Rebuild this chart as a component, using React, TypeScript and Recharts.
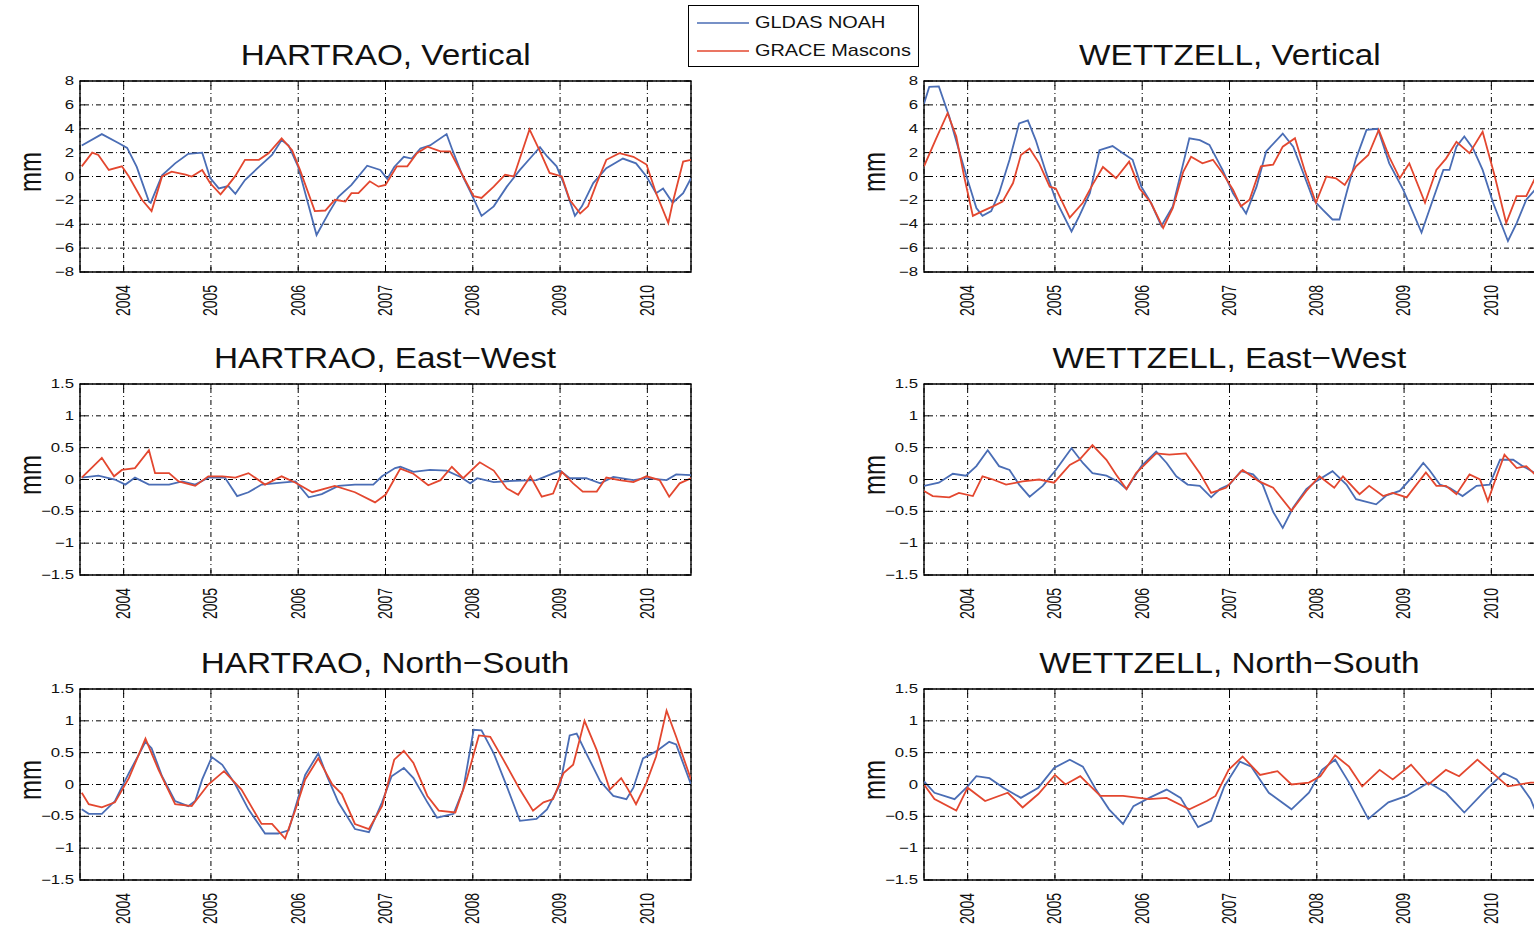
import React from "react";
import { LineChart, Line, XAxis, YAxis, CartesianGrid, ReferenceArea } from "recharts";

type Pt = [number, number];

const years = [2004, 2005, 2006, 2007, 2008, 2009, 2010];
const vertTicks = [-8, -6, -4, -2, 0, 2, 4, 6, 8];
const horizTicks = [-1.5, -1, -0.5, 0, 0.5, 1, 1.5];
const seriesNames = ["GLDAS NOAH", "GRACE Mascons"];

// HARTRAO
const hartraoVertGldas: Pt[] = [[2003.52,2.6],[2003.75,3.55],[2003.94,2.8],[2004.04,2.4],[2004.15,0.8],[2004.29,-2.1],[2004.31,-2.2],[2004.44,0.1],[2004.59,1.1],[2004.74,1.9],[2004.9,2.0],[2004.99,-0.1],[2005.09,-1.0],[2005.2,-0.8],[2005.28,-1.45],[2005.39,-0.3],[2005.55,0.8],[2005.7,1.8],[2005.81,3.05],[2005.89,2.6],[2006.0,0.8],[2006.21,-4.9],[2006.35,-3.05],[2006.46,-1.7],[2006.61,-0.7],[2006.79,0.9],[2006.94,0.55],[2007.02,-0.2],[2007.1,0.8],[2007.21,1.65],[2007.3,1.5],[2007.4,2.35],[2007.51,2.6],[2007.7,3.55],[2007.76,2.35],[2007.88,0.1],[2007.97,-1.25],[2008.1,-3.3],[2008.24,-2.5],[2008.39,-0.85],[2008.54,0.55],[2008.69,1.8],[2008.77,2.45],[2008.85,1.7],[2008.96,0.85],[2009.04,-0.55],[2009.17,-3.3],[2009.25,-2.5],[2009.38,-0.55],[2009.53,0.7],[2009.72,1.5],[2009.87,1.1],[2009.99,0],[2010.1,-1.4],[2010.18,-1.0],[2010.29,-2.2],[2010.41,-1.4],[2010.5,-0.15]];
const hartraoVertGrace: Pt[] = [[2003.52,0.85],[2003.64,2.0],[2003.71,1.8],[2003.83,0.55],[2003.98,0.85],[2004.06,0],[2004.21,-1.95],[2004.32,-2.9],[2004.44,0],[2004.55,0.4],[2004.71,0.15],[2004.78,0],[2004.9,0.55],[2004.99,-0.55],[2005.11,-1.5],[2005.2,-0.7],[2005.28,0.05],[2005.39,1.4],[2005.55,1.4],[2005.66,1.95],[2005.81,3.2],[2005.93,2.2],[2006.02,0.55],[2006.19,-2.9],[2006.31,-2.85],[2006.42,-1.95],[2006.54,-2.1],[2006.61,-1.4],[2006.69,-1.4],[2006.82,-0.4],[2006.92,-0.85],[2007.0,-0.7],[2007.13,0.85],[2007.25,0.85],[2007.36,1.95],[2007.48,2.5],[2007.63,2.1],[2007.74,2.1],[2007.88,0.15],[2008.01,-1.65],[2008.1,-1.8],[2008.24,-0.85],[2008.37,0.15],[2008.47,0],[2008.65,3.95],[2008.77,2.1],[2008.88,0.3],[2009.02,0],[2009.11,-1.95],[2009.23,-3.1],[2009.32,-2.5],[2009.42,-0.55],[2009.53,1.4],[2009.68,1.95],[2009.84,1.65],[2009.99,1.0],[2010.1,-1.4],[2010.24,-3.9],[2010.29,-2.2],[2010.41,1.25],[2010.5,1.4]];
const hartraoEwGldas: Pt[] = [[2003.52,0.03],[2003.71,0.06],[2003.9,0],[2004.02,-0.08],[2004.13,0.03],[2004.29,-0.08],[2004.52,-0.08],[2004.67,-0.03],[2004.82,-0.08],[2004.97,0.03],[2005.16,0.03],[2005.3,-0.26],[2005.43,-0.2],[2005.58,-0.08],[2005.81,-0.05],[2005.97,-0.03],[2006.12,-0.28],[2006.27,-0.23],[2006.46,-0.1],[2006.65,-0.08],[2006.86,-0.08],[2006.96,0.05],[2007.11,0.18],[2007.17,0.2],[2007.32,0.12],[2007.51,0.15],[2007.7,0.14],[2007.86,0.04],[2007.97,-0.06],[2008.05,0.02],[2008.24,-0.04],[2008.47,-0.02],[2008.73,-0.01],[2009.0,0.14],[2009.11,0.02],[2009.3,0.02],[2009.46,-0.06],[2009.61,0.04],[2009.84,-0.01],[2009.99,0.02],[2010.22,-0.01],[2010.33,0.08],[2010.5,0.07]];
const hartraoEwGrace: Pt[] = [[2003.52,0.03],[2003.75,0.34],[2003.89,0.05],[2003.98,0.15],[2004.13,0.18],[2004.29,0.46],[2004.36,0.1],[2004.52,0.1],[2004.63,-0.03],[2004.82,-0.1],[2004.97,0.05],[2005.13,0.05],[2005.28,0.03],[2005.43,0.1],[2005.62,-0.08],[2005.81,0.05],[2005.97,-0.05],[2006.16,-0.2],[2006.42,-0.1],[2006.65,-0.2],[2006.88,-0.36],[2007.0,-0.24],[2007.17,0.17],[2007.32,0.09],[2007.49,-0.09],[2007.63,-0.01],[2007.76,0.2],[2007.89,0.02],[2008.08,0.27],[2008.24,0.14],[2008.39,-0.14],[2008.52,-0.24],[2008.66,0.05],[2008.79,-0.27],[2008.92,-0.22],[2009.02,0.12],[2009.15,-0.06],[2009.26,-0.19],[2009.42,-0.19],[2009.53,0.03],[2009.68,-0.01],[2009.84,-0.04],[2009.99,0.05],[2010.14,-0.01],[2010.25,-0.27],[2010.37,-0.06],[2010.5,0.02]];
const hartraoNsGldas: Pt[] = [[2003.52,-0.39],[2003.6,-0.46],[2003.75,-0.46],[2003.9,-0.26],[2004.06,0.18],[2004.17,0.46],[2004.25,0.67],[2004.32,0.57],[2004.44,0.13],[2004.59,-0.26],[2004.74,-0.34],[2004.82,-0.26],[2004.9,0.08],[2005.01,0.43],[2005.13,0.31],[2005.28,0],[2005.43,-0.39],[2005.62,-0.77],[2005.77,-0.77],[2005.89,-0.72],[2006.0,-0.21],[2006.08,0.15],[2006.23,0.49],[2006.33,0.13],[2006.46,-0.28],[2006.65,-0.7],[2006.81,-0.75],[2006.96,-0.28],[2007.07,0.13],[2007.21,0.26],[2007.32,0.1],[2007.48,-0.28],[2007.59,-0.52],[2007.78,-0.46],[2007.89,-0.08],[2008.01,0.86],[2008.1,0.85],[2008.24,0.49],[2008.39,-0.03],[2008.54,-0.57],[2008.73,-0.54],[2008.85,-0.39],[2009.0,0],[2009.11,0.77],[2009.19,0.8],[2009.3,0.49],[2009.46,0.05],[2009.61,-0.18],[2009.76,-0.23],[2009.84,-0.05],[2009.95,0.41],[2010.1,0.52],[2010.25,0.67],[2010.33,0.63],[2010.5,0]];
const hartraoNsGrace: Pt[] = [[2003.52,-0.13],[2003.6,-0.31],[2003.75,-0.36],[2003.9,-0.28],[2004.06,0.1],[2004.25,0.72],[2004.4,0.23],[2004.59,-0.31],[2004.78,-0.34],[2004.97,0],[2005.15,0.21],[2005.35,-0.08],[2005.58,-0.62],[2005.7,-0.62],[2005.85,-0.85],[2005.97,-0.39],[2006.08,0.08],[2006.23,0.41],[2006.39,0],[2006.5,-0.15],[2006.65,-0.62],[2006.81,-0.7],[2006.96,-0.34],[2007.1,0.39],[2007.21,0.53],[2007.32,0.34],[2007.48,-0.18],[2007.61,-0.41],[2007.8,-0.44],[2007.93,0.08],[2008.07,0.77],[2008.2,0.75],[2008.35,0.39],[2008.54,-0.08],[2008.69,-0.41],[2008.81,-0.28],[2008.92,-0.23],[2009.04,0.18],[2009.15,0.31],[2009.28,1.0],[2009.42,0.54],[2009.57,-0.08],[2009.7,0.1],[2009.78,-0.08],[2009.87,-0.31],[2009.99,0.03],[2010.1,0.44],[2010.22,1.16],[2010.33,0.75],[2010.5,0.08]];

// WETTZELL
const wettzellVertGldas: Pt[] = [[2003.5,6.1],[2003.56,7.5],[2003.67,7.55],[2003.79,5.0],[2003.9,2.2],[2004.0,-0.3],[2004.1,-2.65],[2004.17,-3.3],[2004.27,-2.9],[2004.36,-1.4],[2004.48,1.4],[2004.59,4.45],[2004.69,4.7],[2004.78,3.05],[2004.9,0.3],[2005.01,-1.95],[2005.19,-4.6],[2005.28,-3.3],[2005.4,-1.4],[2005.51,2.2],[2005.66,2.55],[2005.78,1.95],[2005.89,1.4],[2005.99,-0.85],[2006.1,-2.2],[2006.22,-4.15],[2006.35,-2.5],[2006.47,1.1],[2006.54,3.2],[2006.66,3.05],[2006.77,2.65],[2006.92,0.55],[2007.04,-1.4],[2007.19,-3.1],[2007.31,-0.85],[2007.42,2.1],[2007.61,3.6],[2007.73,2.5],[2007.86,0],[2007.96,-1.95],[2008.07,-2.8],[2008.18,-3.6],[2008.26,-3.6],[2008.34,-1.4],[2008.45,1.5],[2008.57,3.9],[2008.7,4.0],[2008.83,1.1],[2008.99,-1.1],[2009.2,-4.7],[2009.33,-1.95],[2009.45,0.55],[2009.52,0.55],[2009.6,2.5],[2009.69,3.35],[2009.79,2.35],[2009.9,0.55],[2010.02,-2.2],[2010.19,-5.4],[2010.29,-3.9],[2010.4,-1.95],[2010.5,-1.1]];
const wettzellVertGrace: Pt[] = [[2003.5,0.85],[2003.64,3.2],[2003.77,5.3],[2003.87,3.35],[2003.96,0],[2004.06,-3.3],[2004.17,-2.9],[2004.29,-2.5],[2004.4,-2.1],[2004.52,-0.55],[2004.61,1.8],[2004.71,2.35],[2004.82,1.1],[2004.94,-0.85],[2005.01,-1.0],[2005.17,-3.45],[2005.32,-2.2],[2005.43,-0.7],[2005.55,0.8],[2005.7,-0.15],[2005.85,1.25],[2005.97,-1.0],[2006.1,-2.2],[2006.24,-4.3],[2006.35,-2.65],[2006.47,0.4],[2006.56,1.65],[2006.69,1.1],[2006.81,1.4],[2006.92,0.3],[2007.04,-1.1],[2007.13,-2.5],[2007.23,-1.95],[2007.36,0.85],[2007.5,1.0],[2007.61,2.5],[2007.75,3.2],[2007.86,0.55],[2007.99,-2.2],[2008.11,0],[2008.22,-0.15],[2008.32,-0.7],[2008.45,0.85],[2008.59,1.8],[2008.71,3.9],[2008.83,1.65],[2008.95,-0.15],[2009.06,1.1],[2009.24,-2.2],[2009.37,0.55],[2009.48,1.5],[2009.6,2.9],[2009.75,1.95],[2009.9,3.75],[2010.04,0],[2010.17,-3.9],[2010.29,-1.65],[2010.4,-1.65],[2010.5,-0.15]];
const wettzellEwGldas: Pt[] = [[2003.5,-0.1],[2003.67,-0.05],[2003.83,0.09],[2003.98,0.06],[2004.1,0.21],[2004.23,0.46],[2004.36,0.21],[2004.48,0.15],[2004.59,-0.08],[2004.71,-0.27],[2004.86,-0.1],[2005.01,0.15],[2005.19,0.49],[2005.32,0.26],[2005.43,0.1],[2005.59,0.06],[2005.72,-0.03],[2005.82,-0.15],[2005.99,0.21],[2006.16,0.44],[2006.28,0.26],[2006.39,0.05],[2006.52,-0.08],[2006.66,-0.1],[2006.79,-0.28],[2006.89,-0.15],[2007.0,-0.08],[2007.13,0.13],[2007.27,0.08],[2007.38,-0.08],[2007.5,-0.51],[2007.61,-0.76],[2007.73,-0.44],[2007.88,-0.15],[2007.99,-0.03],[2008.18,0.13],[2008.34,-0.08],[2008.45,-0.31],[2008.68,-0.39],[2008.8,-0.25],[2008.95,-0.18],[2009.1,0.05],[2009.22,0.26],[2009.29,0.15],[2009.41,-0.08],[2009.52,-0.13],[2009.67,-0.26],[2009.83,-0.1],[2009.98,-0.08],[2010.1,0.31],[2010.25,0.31],[2010.36,0.21],[2010.5,0.1]];
const wettzellEwGrace: Pt[] = [[2003.5,-0.18],[2003.6,-0.26],[2003.79,-0.28],[2003.9,-0.21],[2004.06,-0.26],[2004.17,0.05],[2004.29,0],[2004.44,-0.08],[2004.63,-0.03],[2004.82,0],[2004.99,-0.05],[2005.17,0.23],[2005.28,0.31],[2005.43,0.54],[2005.59,0.31],[2005.7,0.08],[2005.82,-0.15],[2005.93,0.1],[2006.16,0.41],[2006.31,0.39],[2006.5,0.41],[2006.66,0.1],[2006.79,-0.21],[2006.96,-0.13],[2007.15,0.15],[2007.34,-0.03],[2007.5,-0.13],[2007.71,-0.49],[2007.88,-0.18],[2008.03,0.05],[2008.2,-0.13],[2008.3,0.05],[2008.49,-0.23],[2008.6,-0.1],[2008.76,-0.26],[2008.87,-0.21],[2009.03,-0.28],[2009.25,0.11],[2009.37,-0.1],[2009.48,-0.1],[2009.6,-0.23],[2009.75,0.08],[2009.87,0],[2009.96,-0.34],[2010.06,0.05],[2010.15,0.39],[2010.29,0.18],[2010.4,0.21],[2010.5,0.08]];
const wettzellNsGldas: Pt[] = [[2003.5,0.05],[2003.62,-0.13],[2003.85,-0.23],[2004.0,-0.03],[2004.1,0.13],[2004.25,0.1],[2004.41,-0.05],[2004.61,-0.21],[2004.81,-0.05],[2004.99,0.26],[2005.17,0.39],[2005.32,0.28],[2005.47,-0.08],[2005.62,-0.39],[2005.78,-0.62],[2005.9,-0.34],[2006.08,-0.21],[2006.28,-0.08],[2006.44,-0.21],[2006.64,-0.67],[2006.79,-0.57],[2006.94,-0.03],[2007.12,0.36],[2007.25,0.28],[2007.45,-0.13],[2007.71,-0.39],[2007.91,-0.13],[2008.06,0.23],[2008.21,0.39],[2008.37,0.03],[2008.59,-0.54],[2008.82,-0.28],[2009.03,-0.18],[2009.28,0.03],[2009.48,-0.13],[2009.69,-0.44],[2009.94,-0.08],[2010.14,0.18],[2010.29,0.08],[2010.45,-0.23],[2010.5,-0.4]];
const wettzellNsGrace: Pt[] = [[2003.5,0],[2003.62,-0.23],[2003.87,-0.41],[2004.0,-0.05],[2004.2,-0.26],[2004.46,-0.13],[2004.63,-0.36],[2004.81,-0.15],[2005.0,0.15],[2005.12,0],[2005.29,0.13],[2005.52,-0.18],[2005.78,-0.18],[2006.08,-0.23],[2006.28,-0.21],[2006.54,-0.39],[2006.74,-0.26],[2006.84,-0.18],[2006.99,0.23],[2007.15,0.44],[2007.35,0.15],[2007.55,0.21],[2007.71,0],[2007.91,0.03],[2008.04,0.13],[2008.21,0.46],[2008.37,0.28],[2008.52,-0.03],[2008.72,0.23],[2008.87,0.08],[2009.08,0.31],[2009.28,0],[2009.48,0.23],[2009.63,0.13],[2009.84,0.39],[2009.99,0.21],[2010.19,-0.03],[2010.45,0.03],[2010.5,0.03]];

const BLUE = "#4a6db5";
const RED = "#e3472f";
const FONT = "'Liberation Sans', Arial, Helvetica, sans-serif";

const PLOT_W = 611;
const PLOT_H = 191;
const YW = 60;
const MT = 14;
const MR = 5;
const XH = 55;

const fmt = (v: number) => String(v).replace("-", "\u2212");
const toRows = (pts: Pt[]) => pts.map(([t, v]) => ({ t, v }));

const panels = [
  { title: "HARTRAO, Vertical", left: 80, top: 81, ticks: vertTicks, gldas: hartraoVertGldas, grace: hartraoVertGrace },
  { title: "HARTRAO, East\u2212West", left: 80, top: 384, ticks: horizTicks, gldas: hartraoEwGldas, grace: hartraoEwGrace },
  { title: "HARTRAO, North\u2212South", left: 80, top: 689, ticks: horizTicks, gldas: hartraoNsGldas, grace: hartraoNsGrace },
  { title: "WETTZELL, Vertical", left: 924, top: 81, ticks: vertTicks, gldas: wettzellVertGldas, grace: wettzellVertGrace },
  { title: "WETTZELL, East\u2212West", left: 924, top: 384, ticks: horizTicks, gldas: wettzellEwGldas, grace: wettzellEwGrace },
  { title: "WETTZELL, North\u2212South", left: 924, top: 689, ticks: horizTicks, gldas: wettzellNsGldas, grace: wettzellNsGrace },
];

function XTick(props: any) {
  const { x, y, payload } = props;
  return (
    <g>
      <line x1={x} y1={y} x2={x} y2={y - 5} stroke="#000" />
      <line x1={x} y1={y - PLOT_H} x2={x} y2={y - PLOT_H + 5} stroke="#000" />
      <text
        transform={`translate(${x},${y + 13}) rotate(-90) scale(1,1.4)`}
        textAnchor="end"
        dominantBaseline="central"
        fontSize={14}
        fontFamily={FONT}
        fill="#111"
      >
        {payload.value}
      </text>
    </g>
  );
}

function YTick(props: any) {
  const { x, y, payload } = props;
  return (
    <g>
      <line x1={x} y1={y} x2={x + 5} y2={y} stroke="#000" />
      <line x1={x + PLOT_W} y1={y} x2={x + PLOT_W - 5} y2={y} stroke="#000" />
      <text
        transform={`translate(${x - 6},${y}) scale(1.4,1)`}
        textAnchor="end"
        dominantBaseline="central"
        fontSize={12}
        fontFamily={FONT}
        fill="#111"
      >
        {fmt(payload.value)}
      </text>
    </g>
  );
}

function Panel({ title, left, top, ticks, gldas, grace }: any) {
  const lo = ticks[0];
  const hi = ticks[ticks.length - 1];
  return (
    <>
      <div
        style={{
          position: "absolute",
          left,
          width: PLOT_W,
          top: top - 45,
          height: 38,
          lineHeight: "38px",
          textAlign: "center",
          fontSize: 30,
          color: "#111",
          whiteSpace: "nowrap",
        }}
      >
        <span style={{ display: "inline-block", transform: "scaleX(1.11)" }}>{title}</span>
      </div>
      <div
        style={{
          position: "absolute",
          left: left - 64,
          top: top + PLOT_H / 2 - 15,
          width: 30,
          height: 30,
          lineHeight: "30px",
          textAlign: "center",
          fontSize: 24,
          color: "#111",
          transform: "rotate(-90deg) scaleY(1.3)",
        }}
      >
        mm
      </div>
      <div style={{ position: "absolute", left: left - YW, top: top - MT }}>
        <LineChart width={YW + PLOT_W + MR} height={MT + PLOT_H + XH} margin={{ top: MT, right: MR, bottom: 0, left: 0 }}>
          <CartesianGrid stroke="#000" strokeWidth={1} strokeDasharray="1 3 5 3" />
          <XAxis
            type="number"
            dataKey="t"
            domain={[2003.5, 2010.5]}
            ticks={years}
            interval={0}
            allowDataOverflow
            height={XH}
            axisLine={false}
            tickLine={false}
            tickSize={0}
            tickMargin={0}
            tick={(p: any) => <XTick {...p} />}
          />
          <YAxis
            type="number"
            dataKey="v"
            domain={[lo, hi]}
            ticks={ticks}
            interval={0}
            allowDataOverflow
            width={YW}
            axisLine={false}
            tickLine={false}
            tickSize={0}
            tickMargin={0}
            tick={(p: any) => <YTick {...p} />}
          />
          <Line data={toRows(gldas)} dataKey="v" name={seriesNames[0]} type="linear" stroke={BLUE} strokeWidth={1.8} dot={false} isAnimationActive={false} />
          <Line data={toRows(grace)} dataKey="v" name={seriesNames[1]} type="linear" stroke={RED} strokeWidth={1.8} dot={false} isAnimationActive={false} />
          <ReferenceArea x1={2003.5} x2={2010.5} y1={lo} y2={hi} fill="none" stroke="#000" strokeWidth={1.4} />
        </LineChart>
      </div>
    </>
  );
}

export default function App() {
  return (
    <div
      style={{
        position: "absolute",
        left: 0,
        top: 0,
        width: 1534,
        height: 933,
        overflow: "hidden",
        background: "#fff",
        fontFamily: FONT,
      }}
    >
      {panels.map((p) => (
        <Panel key={p.title} {...p} />
      ))}
      <div
        style={{
          position: "absolute",
          left: 688,
          top: 5,
          width: 229,
          height: 60,
          border: "1.5px solid #000",
          background: "#fff",
        }}
      >
        {seriesNames.map((name, i) => (
          <div key={name} style={{ position: "absolute", left: 8, top: 5 + i * 28, height: 24, display: "flex", alignItems: "center" }}>
            <svg width={52} height={4}>
              <line x1={0} y1={2} x2={52} y2={2} stroke={i === 0 ? BLUE : RED} strokeWidth={1.5} />
            </svg>
            <span style={{ marginLeft: 6, fontSize: 17, color: "#111", whiteSpace: "nowrap", display: "inline-block", transform: "scaleX(1.17)", transformOrigin: "left center" }}>{name}</span>
          </div>
        ))}
      </div>
    </div>
  );
}
